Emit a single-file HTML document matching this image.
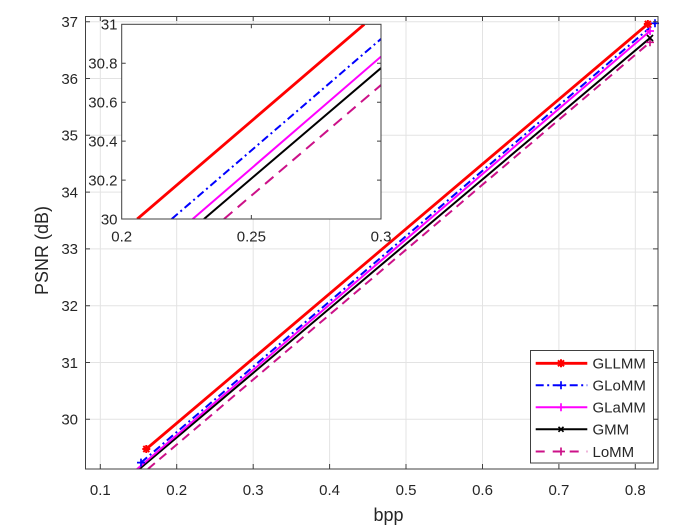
<!DOCTYPE html>
<html>
<head>
<meta charset="utf-8">
<style>
  html, body { margin: 0; padding: 0; background: #ffffff; }
  svg { display: block; }
  text { font-family: "Liberation Sans", Arial, sans-serif; fill: #262626; }
</style>
</head>
<body>
<svg width="691" height="529" viewBox="0 0 691 529" xmlns="http://www.w3.org/2000/svg">
  <defs>
    <clipPath id="mainclip"><rect x="85" y="16" width="573" height="453"/></clipPath>
    <clipPath id="insetclip"><rect x="121.7" y="24.3" width="259.3" height="194.7"/></clipPath>
  </defs>
  <rect x="0" y="0" width="691" height="529" fill="#ffffff"/>

  <!-- main grid -->
  <g stroke="#e3e3e3" stroke-width="1">
    <line x1="100.3" y1="16" x2="100.3" y2="469"/>
    <line x1="176.7" y1="16" x2="176.7" y2="469"/>
    <line x1="253.2" y1="16" x2="253.2" y2="469"/>
    <line x1="329.6" y1="16" x2="329.6" y2="469"/>
    <line x1="406.0" y1="16" x2="406.0" y2="469"/>
    <line x1="482.5" y1="16" x2="482.5" y2="469"/>
    <line x1="558.9" y1="16" x2="558.9" y2="469"/>
    <line x1="635.3" y1="16" x2="635.3" y2="469"/>
    <line x1="85" y1="419.3" x2="658" y2="419.3"/>
    <line x1="85" y1="362.5" x2="658" y2="362.5"/>
    <line x1="85" y1="305.7" x2="658" y2="305.7"/>
    <line x1="85" y1="248.9" x2="658" y2="248.9"/>
    <line x1="85" y1="192.1" x2="658" y2="192.1"/>
    <line x1="85" y1="135.3" x2="658" y2="135.3"/>
    <line x1="85" y1="78.5" x2="658" y2="78.5"/>
    <line x1="85" y1="21.7" x2="658" y2="21.7"/>
  </g>

  <!-- main series -->
  <g clip-path="url(#mainclip)" fill="none" stroke-linecap="butt">
    <line x1="148" y1="469" x2="650" y2="42.3" stroke="#cc1188" stroke-width="2" stroke-dasharray="9,6"/>
    <line x1="139.5" y1="468.9" x2="650" y2="38" stroke="#000000" stroke-width="2"/>
    <line x1="137" y1="469.1" x2="650" y2="31" stroke="#ff00ff" stroke-width="2"/>
    <line x1="141" y1="462.6" x2="655" y2="23.3" stroke="#0000ff" stroke-width="2" stroke-dasharray="8,3.5,2,3.5"/>
    <line x1="146.3" y1="449" x2="647.8" y2="24" stroke="#ff0000" stroke-width="2.8"/>
  </g>
  <!-- main markers -->
  <g fill="none" stroke-width="1.7">
    <path d="M646,42.3 h8 M650,38.3 v8" stroke="#cc1188"/>
    <path d="M647,35 l6,6 M647,41 l6,-6" stroke="#000000"/>
    <path d="M646,31 h8 M650,27 v8" stroke="#ff00ff"/>
    <path d="M651,23.3 h8 M655,19.3 v8" stroke="#0000ff"/>
    <path d="M137,462.6 h8 M141,458.6 v8" stroke="#0000ff"/>
    <path d="M643.8,24 h8 M647.8,20 v8 M644.8,21 l6,6 M644.8,27 l6,-6" stroke="#ff0000" stroke-width="2"/>
    <path d="M142.3,449 h8 M146.3,445 v8 M143.3,446 l6,6 M143.3,452 l6,-6" stroke="#ff0000" stroke-width="2"/>
  </g>

  <!-- main axes box -->
  <rect x="85.5" y="16.5" width="572.5" height="452.5" fill="none" stroke="#404040" stroke-width="1"/>
  <!-- main ticks -->
  <g stroke="#404040" stroke-width="1">
    <path d="M100.3,469 v-5 M176.7,469 v-5 M253.2,469 v-5 M329.6,469 v-5 M406,469 v-5 M482.5,469 v-5 M558.9,469 v-5 M635.3,469 v-5"/>
    <path d="M100.3,16 v5 M176.7,16 v5 M253.2,16 v5 M329.6,16 v5 M406,16 v5 M482.5,16 v5 M558.9,16 v5 M635.3,16 v5"/>
    <path d="M85,419.3 h5 M85,362.5 h5 M85,305.7 h5 M85,248.9 h5 M85,192.1 h5 M85,135.3 h5 M85,78.5 h5 M85,21.7 h5"/>
    <path d="M658,419.3 h-5 M658,362.5 h-5 M658,305.7 h-5 M658,248.9 h-5 M658,192.1 h-5 M658,135.3 h-5 M658,78.5 h-5 M658,21.7 h-5"/>
  </g>

  <!-- main tick labels -->
  <g font-size="15" text-anchor="middle">
    <text x="100.3" y="495">0.1</text>
    <text x="176.7" y="495">0.2</text>
    <text x="253.2" y="495">0.3</text>
    <text x="329.6" y="495">0.4</text>
    <text x="406" y="495">0.5</text>
    <text x="482.5" y="495">0.6</text>
    <text x="558.9" y="495">0.7</text>
    <text x="635.3" y="495">0.8</text>
  </g>
  <g font-size="15" text-anchor="end">
    <text x="78" y="424.6">30</text>
    <text x="78" y="367.8">31</text>
    <text x="78" y="311">32</text>
    <text x="78" y="254.2">33</text>
    <text x="78" y="197.4">34</text>
    <text x="78" y="140.6">35</text>
    <text x="78" y="83.8">36</text>
    <text x="78" y="27">37</text>
  </g>
  <text x="388.5" y="521" font-size="18" text-anchor="middle">bpp</text>
  <text x="48" y="250.5" font-size="18" text-anchor="middle" transform="rotate(-90 48 250.5)">PSNR (dB)</text>

  <!-- inset -->
  <rect x="121.7" y="24.3" width="259.3" height="194.7" fill="#ffffff"/>
  <g clip-path="url(#insetclip)" fill="none">
    <line x1="224" y1="219" x2="381" y2="85" stroke="#cc1188" stroke-width="2" stroke-dasharray="11,7"/>
    <line x1="204" y1="219" x2="381" y2="68" stroke="#000000" stroke-width="2"/>
    <line x1="192.7" y1="219" x2="381" y2="56.6" stroke="#ff00ff" stroke-width="2"/>
    <line x1="171.7" y1="219" x2="381" y2="38.9" stroke="#0000ff" stroke-width="2" stroke-dasharray="8,3.5,2,3.5"/>
    <line x1="137.3" y1="219" x2="364.3" y2="24.3" stroke="#ff0000" stroke-width="2.8"/>
  </g>
  <rect x="121.7" y="24.3" width="259.3" height="194.7" fill="none" stroke="#404040" stroke-width="1"/>
  <g stroke="#404040" stroke-width="1">
    <path d="M251.35,219 v-4 M251.35,24.3 v4"/>
    <path d="M121.7,180.1 h4 M121.7,141.1 h4 M121.7,102.2 h4 M121.7,63.2 h4"/>
    <path d="M381,180.1 h-4 M381,141.1 h-4 M381,102.2 h-4 M381,63.2 h-4"/>
  </g>
  <g font-size="15" text-anchor="end">
    <text x="117.5" y="224.3">30</text>
    <text x="117.5" y="185.4">30.2</text>
    <text x="117.5" y="146.4">30.4</text>
    <text x="117.5" y="107.5">30.6</text>
    <text x="117.5" y="68.5">30.8</text>
    <text x="117.5" y="29.6">31</text>
  </g>
  <g font-size="15" text-anchor="middle">
    <text x="121.7" y="241.5">0.2</text>
    <text x="251.35" y="241.5">0.25</text>
    <text x="381" y="241.5">0.3</text>
  </g>

  <!-- legend -->
  <rect x="530.5" y="350.5" width="123" height="112.5" fill="#ffffff" stroke="#404040" stroke-width="1"/>
  <g fill="none">
    <line x1="535.7" y1="363.3" x2="587.3" y2="363.3" stroke="#ff0000" stroke-width="2.8"/>
    <path d="M557,363.3 h8 M561,359.3 v8 M558,360.3 l6,6 M558,366.3 l6,-6" stroke="#ff0000" stroke-width="2"/>
    <line x1="535.7" y1="385.3" x2="587.3" y2="385.3" stroke="#0000ff" stroke-width="2" stroke-dasharray="8,3.5,2,3.5"/>
    <path d="M557,385.3 h8 M561,381.3 v8" stroke="#0000ff" stroke-width="1.7"/>
    <line x1="535.7" y1="407.3" x2="587.3" y2="407.3" stroke="#ff00ff" stroke-width="2"/>
    <path d="M557,407.3 h8 M561,403.3 v8" stroke="#ff00ff" stroke-width="1.7"/>
    <line x1="535.7" y1="429.3" x2="587.3" y2="429.3" stroke="#000000" stroke-width="2"/>
    <path d="M558.5,426.8 l5,5 M558.5,431.8 l5,-5" stroke="#000000" stroke-width="1.7"/>
    <line x1="535.7" y1="451.5" x2="587.3" y2="451.5" stroke="#cc1188" stroke-width="2" stroke-dasharray="9,8"/>
    <path d="M557,451.5 h8 M561,447.5 v8" stroke="#cc1188" stroke-width="1.7"/>
  </g>
  <g font-size="15" fill="#000000">
    <text x="592.5" y="368.6">GLLMM</text>
    <text x="592.5" y="390.6">GLoMM</text>
    <text x="592.5" y="412.6">GLaMM</text>
    <text x="592.5" y="434.6">GMM</text>
    <text x="592.5" y="456.8">LoMM</text>
  </g>
</svg>
</body>
</html>
